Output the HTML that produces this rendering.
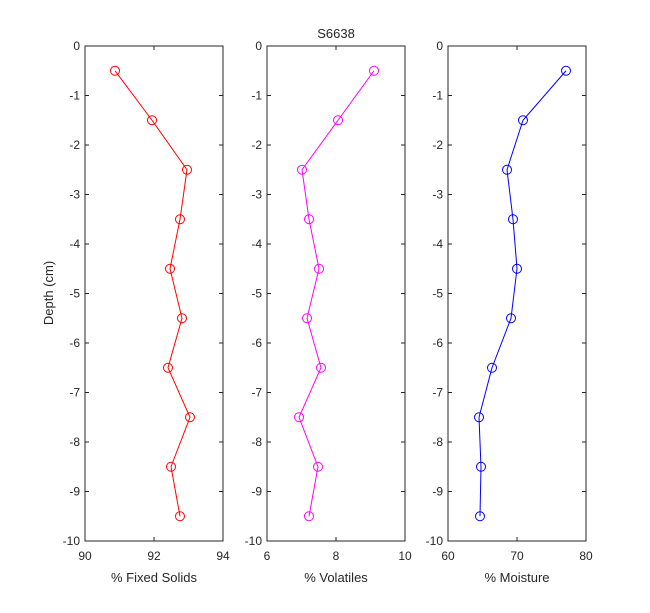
<!DOCTYPE html>
<html><head><style>body{margin:0;background:#fff}</style></head><body>
<svg width="650" height="608" xmlns="http://www.w3.org/2000/svg" font-family="Liberation Sans, sans-serif" font-size="12" fill="#262626">
<rect width="650" height="608" fill="#fff"/>
<text x="336" y="38" text-anchor="middle" font-size="13">S6638</text>
<text transform="translate(53,293) rotate(-90)" text-anchor="middle" font-size="13">Depth (cm)</text>

<!-- Panel 1 -->
<g transform="translate(85,0)">
<rect x="0" y="46" width="138" height="495" fill="none" stroke="#262626"/>
<path d="M0 95.5h4M0 145h4M0 194.5h4M0 244h4M0 293.5h4M0 343h4M0 392.5h4M0 442h4M0 491.5h4M138 95.5h-4M138 145h-4M138 194.5h-4M138 244h-4M138 293.5h-4M138 343h-4M138 392.5h-4M138 442h-4M138 491.5h-4M69 541v-4M69 46v4" stroke="#262626"/>
<g text-anchor="end"><text x="-5" y="50">0</text><text x="-5" y="99.5">-1</text><text x="-5" y="149">-2</text><text x="-5" y="198.5">-3</text><text x="-5" y="248">-4</text><text x="-5" y="297.5">-5</text><text x="-5" y="347">-6</text><text x="-5" y="396.5">-7</text><text x="-5" y="446">-8</text><text x="-5" y="495.5">-9</text><text x="-5" y="545">-10</text></g>
<g text-anchor="middle"><text x="0" y="560">90</text><text x="69" y="560">92</text><text x="138" y="560">94</text><text x="69" y="582" font-size="13">% Fixed Solids</text></g>
</g>
<polyline points="115,70.75 152,120.25 187,169.75 180,219.25 170,268.75 182,318.25 168,367.75 190,417.25 171,466.75 180,516.25" fill="none" stroke="#ff0000"/>
<g fill="none" stroke="#ff0000"><circle cx="115" cy="70.75" r="4.5"/><circle cx="152" cy="120.25" r="4.5"/><circle cx="187" cy="169.75" r="4.5"/><circle cx="180" cy="219.25" r="4.5"/><circle cx="170" cy="268.75" r="4.5"/><circle cx="182" cy="318.25" r="4.5"/><circle cx="168" cy="367.75" r="4.5"/><circle cx="190" cy="417.25" r="4.5"/><circle cx="171" cy="466.75" r="4.5"/><circle cx="180" cy="516.25" r="4.5"/></g>

<!-- Panel 2 -->
<g transform="translate(267,0)">
<rect x="0" y="46" width="138" height="495" fill="none" stroke="#262626"/>
<path d="M0 95.5h4M0 145h4M0 194.5h4M0 244h4M0 293.5h4M0 343h4M0 392.5h4M0 442h4M0 491.5h4M138 95.5h-4M138 145h-4M138 194.5h-4M138 244h-4M138 293.5h-4M138 343h-4M138 392.5h-4M138 442h-4M138 491.5h-4M69 541v-4M69 46v4" stroke="#262626"/>
<g text-anchor="end"><text x="-5" y="50">0</text><text x="-5" y="99.5">-1</text><text x="-5" y="149">-2</text><text x="-5" y="198.5">-3</text><text x="-5" y="248">-4</text><text x="-5" y="297.5">-5</text><text x="-5" y="347">-6</text><text x="-5" y="396.5">-7</text><text x="-5" y="446">-8</text><text x="-5" y="495.5">-9</text><text x="-5" y="545">-10</text></g>
<g text-anchor="middle"><text x="0" y="560">6</text><text x="69" y="560">8</text><text x="138" y="560">10</text><text x="69" y="582" font-size="13">% Volatiles</text></g>
</g>
<polyline points="374,70.75 338,120.25 302,169.75 309,219.25 319,268.75 307,318.25 321,367.75 299,417.25 318,466.75 309,516.25" fill="none" stroke="#ff00ff"/>
<g fill="none" stroke="#ff00ff"><circle cx="374" cy="70.75" r="4.5"/><circle cx="338" cy="120.25" r="4.5"/><circle cx="302" cy="169.75" r="4.5"/><circle cx="309" cy="219.25" r="4.5"/><circle cx="319" cy="268.75" r="4.5"/><circle cx="307" cy="318.25" r="4.5"/><circle cx="321" cy="367.75" r="4.5"/><circle cx="299" cy="417.25" r="4.5"/><circle cx="318" cy="466.75" r="4.5"/><circle cx="309" cy="516.25" r="4.5"/></g>

<!-- Panel 3 -->
<g transform="translate(448,0)">
<rect x="0" y="46" width="138" height="495" fill="none" stroke="#262626"/>
<path d="M0 95.5h4M0 145h4M0 194.5h4M0 244h4M0 293.5h4M0 343h4M0 392.5h4M0 442h4M0 491.5h4M138 95.5h-4M138 145h-4M138 194.5h-4M138 244h-4M138 293.5h-4M138 343h-4M138 392.5h-4M138 442h-4M138 491.5h-4M69 541v-4M69 46v4" stroke="#262626"/>
<g text-anchor="end"><text x="-5" y="50">0</text><text x="-5" y="99.5">-1</text><text x="-5" y="149">-2</text><text x="-5" y="198.5">-3</text><text x="-5" y="248">-4</text><text x="-5" y="297.5">-5</text><text x="-5" y="347">-6</text><text x="-5" y="396.5">-7</text><text x="-5" y="446">-8</text><text x="-5" y="495.5">-9</text><text x="-5" y="545">-10</text></g>
<g text-anchor="middle"><text x="0" y="560">60</text><text x="69" y="560">70</text><text x="138" y="560">80</text><text x="69" y="582" font-size="13">% Moisture</text></g>
</g>
<polyline points="566,70.75 523,120.25 507,169.75 513,219.25 517,268.75 511,318.25 492,367.75 479,417.25 481,466.75 480,516.25" fill="none" stroke="#0000ff"/>
<g fill="none" stroke="#0000ff"><circle cx="566" cy="70.75" r="4.5"/><circle cx="523" cy="120.25" r="4.5"/><circle cx="507" cy="169.75" r="4.5"/><circle cx="513" cy="219.25" r="4.5"/><circle cx="517" cy="268.75" r="4.5"/><circle cx="511" cy="318.25" r="4.5"/><circle cx="492" cy="367.75" r="4.5"/><circle cx="479" cy="417.25" r="4.5"/><circle cx="481" cy="466.75" r="4.5"/><circle cx="480" cy="516.25" r="4.5"/></g>
</svg>
</body></html>
